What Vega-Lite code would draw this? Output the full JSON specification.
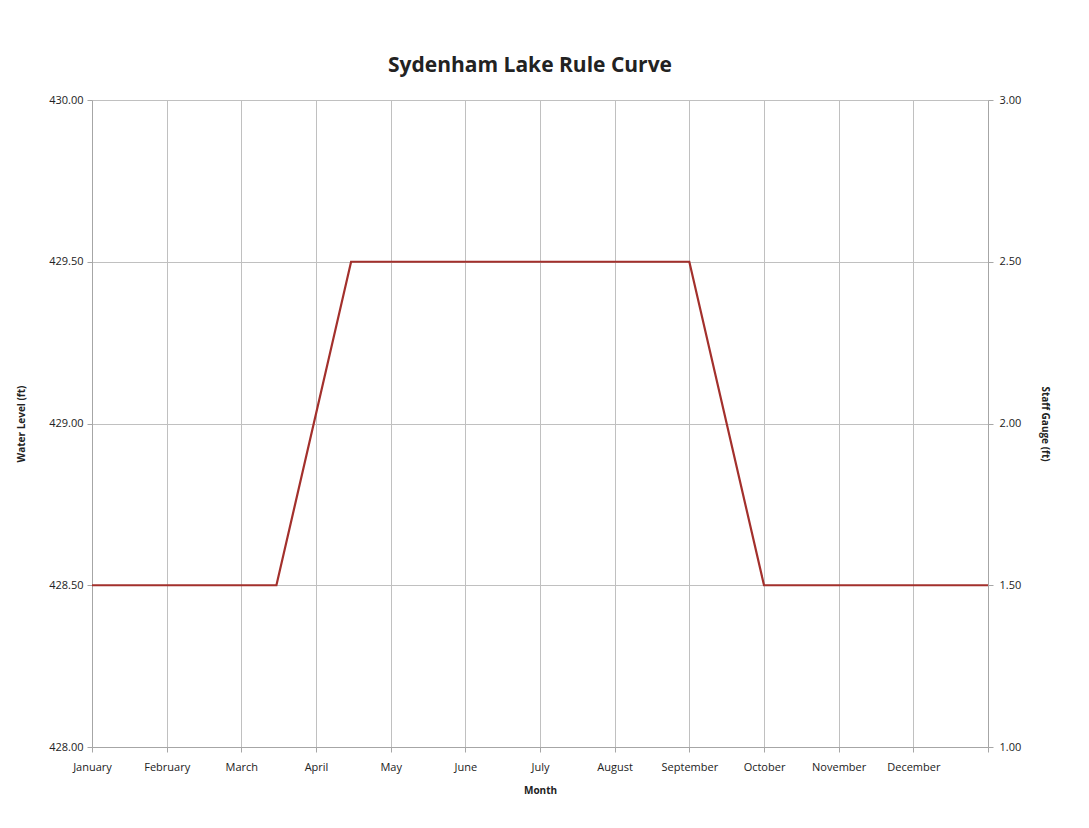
{
  "$schema": "https://vega.github.io/schema/vega-lite/v6.json",
  "width": 896,
  "height": 647,
  "autosize": {"type": "none"},
  "padding": {"left": 92, "top": 100, "right": 101, "bottom": 81},
  "background": "white",
  "title": {
    "text": "Sydenham Lake Rule Curve",
    "font": "Open Sans",
    "fontSize": 21,
    "fontWeight": "bold",
    "color": "#222222",
    "anchor": "middle",
    "offset": 18,
    "dx": -10
  },
  "config": {
    "view": {"stroke": null},
    "axis": {
      "labelFont": "Open Sans",
      "titleFont": "Open Sans",
      "labelFontSize": 11,
      "labelColor": "#222222",
      "titleFontSize": 10,
      "titleFontWeight": "bold",
      "titleColor": "#222222",
      "domainColor": "#a6a6a6",
      "tickColor": "#a6a6a6",
      "gridColor": "#c0c0c0",
      "tickSize": 5
    }
  },
  "data": {
    "values": [
      {"m": 0, "level": 428.5, "gauge": 1.5},
      {"m": 2.47, "level": 428.5, "gauge": 1.5},
      {"m": 3.47, "level": 429.5, "gauge": 2.5},
      {"m": 8.0, "level": 429.5, "gauge": 2.5},
      {"m": 9.0, "level": 428.5, "gauge": 1.5},
      {"m": 12, "level": 428.5, "gauge": 1.5}
    ]
  },
  "encoding": {
    "x": {
      "field": "m",
      "type": "quantitative",
      "scale": {"domain": [0, 12], "nice": false, "zero": false},
      "axis": {
        "title": "Month",
        "values": [0, 1, 2, 3, 4, 5, 6, 7, 8, 9, 10, 11, 12],
        "labelExpr": "['January','February','March','April','May','June','July','August','September','October','November','December',''][datum.value]",
        "labelFlush": false,
        "labelOverlap": false,
        "labelPadding": 9,
        "titlePadding": 13,
        "grid": true
      }
    }
  },
  "layer": [
    {
      "mark": {"type": "line", "color": "#a3302c", "strokeWidth": 2.2},
      "encoding": {
        "y": {
          "field": "level",
          "type": "quantitative",
          "scale": {"domain": [428, 430], "nice": false, "zero": false},
          "axis": {
            "title": "Water Level (ft)",
            "values": [428, 428.5, 429, 429.5, 430],
            "format": ".2f",
            "grid": true,
            "labelPadding": 4,
            "titlePadding": 22
          }
        }
      }
    },
    {
      "mark": {"type": "line", "opacity": 0},
      "encoding": {
        "y": {
          "field": "gauge",
          "type": "quantitative",
          "scale": {"domain": [1, 3], "nice": false, "zero": false},
          "axis": {
            "title": "Staff Gauge (ft)",
            "orient": "right",
            "values": [1, 1.5, 2, 2.5, 3],
            "format": ".2f",
            "grid": false,
            "labelPadding": 6,
            "titlePadding": 19
          }
        }
      }
    }
  ],
  "resolve": {"scale": {"y": "independent"}}
}
